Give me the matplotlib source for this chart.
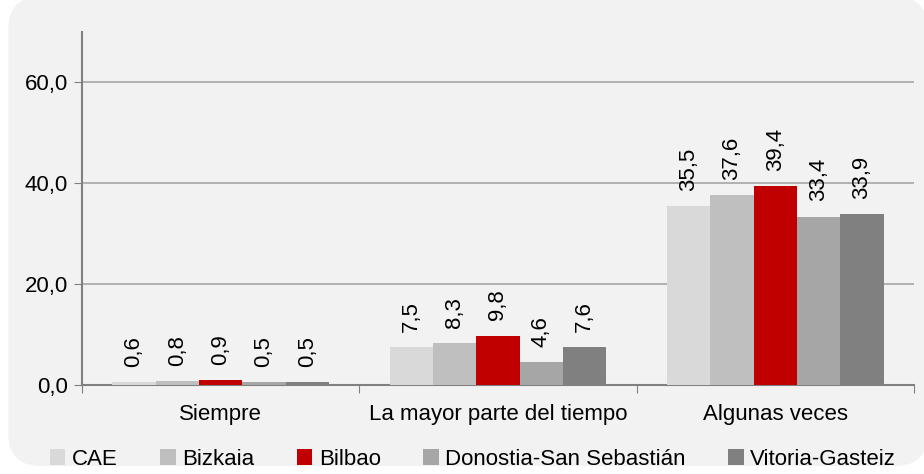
import matplotlib.pyplot as plt
from matplotlib.patches import FancyBboxPatch
import numpy as np

plt.rcParams['font.family'] = ['Liberation Sans Narrow', 'Liberation Sans', 'DejaVu Sans']

categorias = ["Siempre", "La mayor parte del tiempo", "Algunas veces"]
series = ["CAE", "Bizkaia", "Bilbao", "Donostia-San Sebastián", "Vitoria-Gasteiz"]
valores = [
    [0.6, 7.5, 35.5],   # CAE
    [0.8, 8.3, 37.6],   # Bizkaia
    [0.9, 9.8, 39.4],   # Bilbao
    [0.5, 4.6, 33.4],   # Donostia
    [0.5, 7.6, 33.9],   # Vitoria
]
colores = ["#d9d9d9", "#bfbfbf", "#c00000", "#a6a6a6", "#808080"]

fig = plt.figure(figsize=(9.24, 4.74), dpi=100)
fondo = FancyBboxPatch((0.009, 0.017), 0.995, 0.99, boxstyle="round,pad=0,rounding_size=0.035",
                       transform=fig.transFigure, facecolor="#f2f2f2", edgecolor="none",
                       mutation_aspect=924 / 474, zorder=-10)
fig.patches.append(fondo)

ax = fig.add_axes([0.0887, 0.1878, 0.9005, 0.7447])
ax.set_facecolor("none")

x = np.arange(len(categorias))
ancho = 0.156
for i, (nombre, vals, col) in enumerate(zip(series, valores, colores)):
    pos = x + (i - 2) * ancho
    ax.bar(pos, vals, ancho, color=col, label=nombre, zorder=3)
    for p, v in zip(pos, vals):
        ax.text(p, v + 3.0, f"{v:.1f}".replace(".", ","), rotation=90, ha="center", va="bottom",
                fontsize=16, zorder=4)

ax.set_xlim(-0.5, 2.5)
ax.set_ylim(0, 70)
ax.set_yticks([0, 20, 40, 60])
ax.set_yticklabels(["0,0", "20,0", "40,0", "60,0"], fontsize=16)
ax.grid(axis="y", color="#a6a6a6", linewidth=1.2, zorder=0)

ax.set_xticks([-0.5, 0.5, 1.5, 2.5])
ax.set_xticklabels([])
ax.set_xticks(x, minor=True)
ax.set_xticklabels(categorias, minor=True, fontsize=16)
ax.tick_params(axis="x", which="minor", length=0, pad=14)
ax.tick_params(axis="x", which="major", length=6, color="#808080")
ax.tick_params(axis="y", length=6, color="#808080", pad=4)

for s in ["top", "right"]:
    ax.spines[s].set_visible(False)
ax.spines["left"].set_color("#808080")
ax.spines["bottom"].set_color("#808080")
ax.spines["left"].set_linewidth(1.5)
ax.spines["bottom"].set_linewidth(1.5)

ax.legend(loc="center", bbox_to_anchor=(0.47, -0.21), ncol=5, frameon=False, fontsize=16,
          handlelength=0.7, handleheight=0.7, handletextpad=0.3, columnspacing=1.9)

fig.savefig("out.png", dpi=100)
